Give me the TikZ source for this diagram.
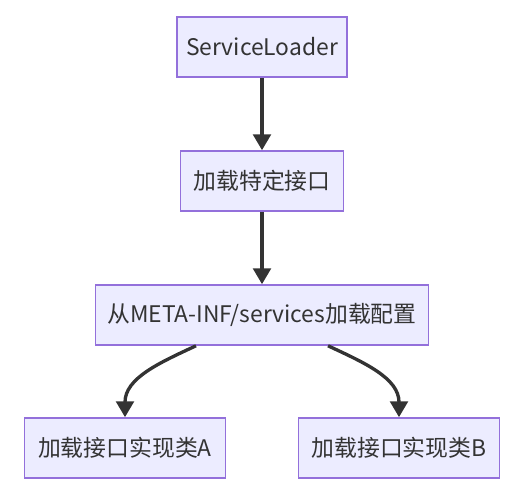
\documentclass[tikz,border=0pt]{standalone}
\usepackage{fontspec}
\setmainfont{Noto Sans CJK SC}
\usetikzlibrary{arrows.meta}
\definecolor{boxfill}{HTML}{ECECFF}
\definecolor{boxline}{HTML}{9370DB}
\definecolor{ink}{HTML}{333333}
\begin{document}
\begin{tikzpicture}[x=0.02cm, y=-0.02cm, every node/.style={font=\fontsize{13}{15}\selectfont, text=ink},
  b/.style={draw=boxline, line width=0.9pt, fill=boxfill, align=center, minimum height=1.2cm, inner sep=0pt},
  arr/.style={draw=ink, line width=1.9pt, -{Triangle[length=9pt, width=10pt]}}]
  \useasboundingbox (0,0) rectangle (530,493);
  \node[b, minimum width=3.4cm] (loader) at (262,47) {ServiceLoader};
  \node[b, minimum width=3.26cm] (iface) at (262,181) {加载特定接口};
  \node[b, minimum width=6.66cm] (cfg) at (262,315) {从META-INF/services加载配置};
  \node[b, minimum width=4.02cm] (implA) at (125,448) {加载接口实现类A};
  \node[b, minimum width=4.02cm] (implB) at (399,448) {加载接口实现类B};
  \draw[arr] (loader) -- (iface);
  \draw[arr] (iface) -- (cfg);
  \draw[arr] (cfg.205) to[out=-155, in=90] (implA.north);
  \draw[arr] (cfg.335) to[out=-25, in=90] (implB.north);
\end{tikzpicture}
\end{document}
